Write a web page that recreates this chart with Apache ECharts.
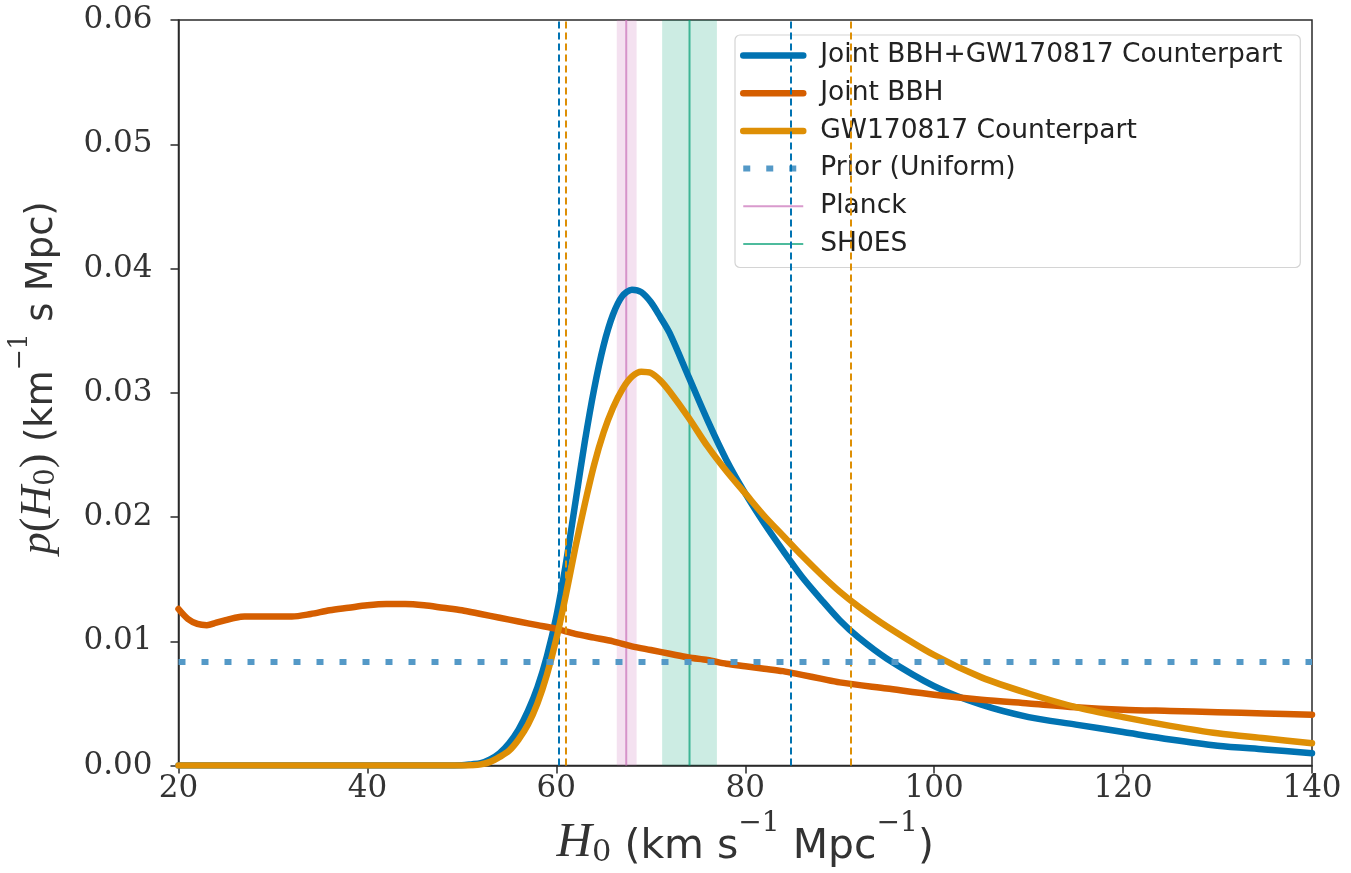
<!DOCTYPE html>
<html>
<head>
<meta charset="utf-8">
<script src="https://cdn.jsdelivr.net/npm/echarts@6/dist/echarts.min.js"></script>
<style>html,body{margin:0;padding:0;background:#fff}#c{width:1351px;height:873px}</style>
</head>
<body>
<div id="c"></div>
<script>
// ---- data ----
const seriesNames = ['Joint BBH+GW170817 Counterpart', 'Joint BBH', 'GW170817 Counterpart', 'Prior (Uniform)', 'Planck', 'SH0ES'];

const jointX = [20,30,40,48,50,51,52,53,54,55,56,57,58,59,60,61,62,63,64,65,66,67,68,69,70,71,72,74,76,78,80,82,84,86,88,90,92,95,100,105,110,115,120,125,130,135,140];
const jointY = [0,0,0,0,0.00002,0.0001,0.0002,0.0005,0.0010,0.0018,0.0029,0.0044,0.0063,0.0088,0.0120,0.0162,0.0211,0.0260,0.0303,0.0338,0.0363,0.0378,0.0383,0.0381,0.0373,0.0361,0.0348,0.0313,0.0278,0.0246,0.0219,0.0195,0.0173,0.0152,0.0134,0.0117,0.0103,0.0086,0.0064,0.0049,0.0039,0.0033,0.0027,0.0021,0.0016,0.0013,0.0010];

const bbhX = [20,21,22,23,24,25,26,27,28,30,32,34,36,38,40,42,44,46,48,50,52,54,56,58,60,62,64,66,68,70,72,74,76,78,80,82,84,86,88,90,95,100,105,110,115,120,125,130,135,140];
const bbhY = [0.0126,0.0118,0.0114,0.0113,0.0115,0.0117,0.0119,0.0120,0.0120,0.0120,0.0120,0.0122,0.0125,0.0127,0.0129,0.0130,0.0130,0.0129,0.0127,0.0125,0.0122,0.0119,0.0116,0.0113,0.0110,0.0106,0.0103,0.0100,0.0096,0.0093,0.0090,0.0087,0.0085,0.0082,0.0080,0.0078,0.0076,0.0073,0.0070,0.0067,0.0062,0.0057,0.0053,0.0050,0.0047,0.0045,0.0044,0.0043,0.0042,0.0041];

const gwX = [20,30,40,48,50,51,52,53,54,55,56,57,58,59,60,61,62,63,64,65,66,67,68,69,70,71,72,74,76,78,80,82,84,86,88,90,92,95,100,105,110,115,120,125,130,135,140];
const gwY = [0,0,0,0,0,0.00003,0.0001,0.0003,0.0007,0.0012,0.0021,0.0033,0.0050,0.0073,0.0102,0.0137,0.0175,0.0210,0.0242,0.0268,0.0288,0.0303,0.0313,0.0317,0.0316,0.0310,0.0301,0.0280,0.0257,0.0237,0.0219,0.0201,0.0185,0.0169,0.0154,0.0140,0.0128,0.0112,0.0089,0.0071,0.0058,0.0047,0.0039,0.0032,0.0026,0.0022,0.0018];

const priorX = [20, 140];
const priorY = [0.00833, 0.00833];

const jointInterval = [60.3, 84.8];
const gwInterval = [61.0, 91.2];

const planckValue = 67.4;
const planckBand = [66.4, 68.5];
const shoesValue = 74.1;
const shoesBand = [71.2, 77.0];

const xTicks = [20, 40, 60, 80, 100, 120, 140];
const yTicks = [0.00, 0.01, 0.02, 0.03, 0.04, 0.05, 0.06];

// ---- build ----
const pairs = (xs, ys) => xs.map((x, i) => [x, ys[i]]);
const vline = v => [[v, yTicks[0]], [v, yTicks[yTicks.length - 1]]];

const SANS = 'DejaVu Sans';
const SERIF = 'DejaVu Serif';
const MATH = 'Liberation Serif';
const TXT = '#333';

const chart = echarts.init(document.getElementById('c'), null, {renderer: 'canvas'});

const curveBase = {type: 'line', showSymbol: false, symbol: 'none', smooth: 0.3, silent: true};

function makeRich(scale) {
  return {
    mi: {fontFamily: MATH, fontStyle: 'italic', fontSize: 42 * scale, color: TXT, lineHeight: 50 * scale, verticalAlign: 'bottom'},
    mr: {fontFamily: MATH, fontSize: 42 * scale, color: TXT, lineHeight: 50 * scale, verticalAlign: 'bottom'},
    sub: {fontFamily: SERIF, fontSize: 26 * scale, color: TXT, lineHeight: 36 * scale, verticalAlign: 'bottom'},
    s: {fontFamily: SANS, fontSize: 35 * scale, color: TXT, lineHeight: 50 * scale, verticalAlign: 'bottom'},
    sup: {fontFamily: SERIF, fontSize: 24 * scale, color: TXT, lineHeight: 24 * scale, verticalAlign: 'top'}
  };
}

const option = {
  animation: false,
  backgroundColor: '#ffffff',
  grid: {left: 178, right: 39, top: 20, bottom: 107, show: true, borderColor: '#2a2a2a', borderWidth: 1.5, backgroundColor: 'transparent'},
  legend: {
    data: seriesNames,
    orient: 'vertical',
    left: 735, top: 35,
    padding: [7, 18, 10, 5],
    itemGap: 10.7,
    itemWidth: 60, itemHeight: 24,
    backgroundColor: 'rgba(255,255,255,0.85)',
    borderColor: '#d4d4d4', borderWidth: 1.2, borderRadius: 5,
    lineStyle: {width: 'inherit'},
    itemStyle: {opacity: 0},
    textStyle: {fontFamily: SANS, fontSize: 26.5, color: '#222', padding: [0, 0, 0, 12]},
    selectedMode: false
  },
  xAxis: {
    type: 'value', min: xTicks[0], max: xTicks[xTicks.length - 1], interval: 20,
    axisLine: {show: true, onZero: false, lineStyle: {color: '#2a2a2a', width: 1.5}},
    axisTick: {show: true, inside: false, length: 8, lineStyle: {color: '#2a2a2a', width: 1.5}},
    splitLine: {show: false},
    axisLabel: {fontFamily: SERIF, fontSize: 31, color: TXT, margin: 8},
    name: '{mi|H}{sub|0}{s| (km s}{sup|−1}{s| Mpc}{sup|−1}{s|)}',
    nameLocation: 'middle', nameGap: 40,
    nameTextStyle: {rich: makeRich(1.17)}
  },
  yAxis: {
    type: 'value', min: yTicks[0], max: yTicks[yTicks.length - 1], interval: 0.01,
    axisLine: {show: true, onZero: false, lineStyle: {color: '#2a2a2a', width: 1.5}},
    axisTick: {show: true, inside: false, length: 8, lineStyle: {color: '#2a2a2a', width: 1.5}},
    splitLine: {show: false},
    axisLabel: {fontFamily: SERIF, fontSize: 31, color: TXT, margin: 26, formatter: v => v.toFixed(2)},
    name: '{mi|p}{mr|(}{mi|H}{sub|0}{mr|)}{s| (km}{sup|−1}{s| s Mpc)}',
    nameLocation: 'middle', nameRotate: 90, nameGap: 118,
    nameTextStyle: {rich: makeRich(1.05), padding: [0, 0, 0, 30]}
  },
  series: [
    {
      name: seriesNames[4], type: 'line', showSymbol: false, symbol: 'none', silent: true, z: 1,
      data: vline(planckValue),
      lineStyle: {color: 'rgba(204,120,188,0.75)', width: 2},
      itemStyle: {color: 'rgba(204,120,188,0.75)'},
      markArea: {silent: true, itemStyle: {color: 'rgba(204,120,188,0.22)'}, data: [[{xAxis: planckBand[0]}, {xAxis: planckBand[1]}]]}
    },
    {
      name: seriesNames[5], type: 'line', showSymbol: false, symbol: 'none', silent: true, z: 1,
      data: vline(shoesValue),
      lineStyle: {color: 'rgba(2,158,115,0.7)', width: 2},
      itemStyle: {color: 'rgba(2,158,115,0.7)'},
      markArea: {silent: true, itemStyle: {color: 'rgba(2,158,115,0.2)'}, data: [[{xAxis: shoesBand[0]}, {xAxis: shoesBand[1]}]]}
    },
    Object.assign({}, curveBase, {
      name: seriesNames[0], z: 3,
      data: pairs(jointX, jointY),
      lineStyle: {color: '#0173B2', width: 6.5, cap: 'round'},
      itemStyle: {color: '#0173B2'},
      markLine: {silent: true, symbol: 'none', label: {show: false},
        lineStyle: {color: '#0173B2', type: [7, 4], width: 2},
        data: jointInterval.map(v => ({xAxis: v}))}
    }),
    Object.assign({}, curveBase, {
      name: seriesNames[1], z: 4,
      data: pairs(bbhX, bbhY),
      lineStyle: {color: '#D55E00', width: 6.5, cap: 'round'},
      itemStyle: {color: '#D55E00'}
    }),
    Object.assign({}, curveBase, {
      name: seriesNames[2], z: 5,
      data: pairs(gwX, gwY),
      lineStyle: {color: '#DE8F05', width: 6.5, cap: 'round'},
      itemStyle: {color: '#DE8F05'},
      markLine: {silent: true, symbol: 'none', label: {show: false},
        lineStyle: {color: '#DE8F05', type: [7, 4], width: 2},
        data: gwInterval.map(v => ({xAxis: v}))}
    }),
    {
      name: seriesNames[3], type: 'line', showSymbol: false, symbol: 'none', silent: true, z: 6,
      data: pairs(priorX, priorY),
      lineStyle: {color: '#5499c7', width: 6, type: [7, 16]},
      itemStyle: {color: '#5499c7'}
    }
  ]
};
chart.setOption(option);
</script>
</body>
</html>
